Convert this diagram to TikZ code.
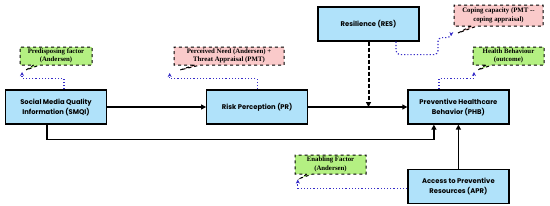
\documentclass[tikz,border=0pt]{standalone}
\usepackage{fontspec}
\usepackage{xcolor}
\usepackage{tikz}
\usetikzlibrary{arrows.meta,positioning,shapes.callouts}
\newfontfamily\boxfont{Poppins}
\newfontfamily\notefont{Liberation Serif}
\definecolor{boxblue}{RGB}{176,226,250}
\definecolor{notegreen}{RGB}{180,240,130}
\definecolor{notepink}{RGB}{250,202,202}
\definecolor{linkblue}{RGB}{55,45,200}
\begin{document}
\begin{tikzpicture}[
  x=1pt,y=-1pt,
  mainbox/.style={draw,line width=1.2pt,fill=boxblue,minimum width=101pt,
              minimum height=34pt,align=center,inner sep=1pt,
              font=\boxfont\bfseries\fontsize{6.8}{10}\selectfont},
  note/.style={rectangle callout,draw,dashed,line width=1pt,align=center,
              inner sep=0.5pt,callout pointer width=6pt,
              font=\notefont\bfseries\fontsize{6.8}{8.5}\selectfont},
  arr/.style={-{Triangle[length=5pt,width=5pt]},line width=1.2pt},
  link/.style={-{Stealth[length=4pt,width=4pt]},dotted,line width=1.2pt,
              draw=linkblue}
]
\useasboundingbox (0,0) rectangle (550,206);
% main boxes
\node[mainbox] (smqi) at (56,107) {Social Media Quality\\Information (SMQI)};
\node[mainbox,right=99pt of smqi] (pr) {Risk Perception (PR)};
\node[mainbox,right=99pt of pr] (phb) {Preventive Healthcare\\Behavior (PHB)};
\node[mainbox,below=44pt of phb] (apr) {Access to Preventive\\Resources (APR)};
\node[mainbox] (res) at (368.5,24) {Resilience (RES)};
% notes
\node[note,fill=notegreen,minimum width=72pt,minimum height=18pt,
      callout absolute pointer={(26,70)}] (pred) at (56,56)
      {Predisposing factor\\(Andersen)};
\node[note,fill=notepink,minimum width=110pt,minimum height=18pt,
      callout absolute pointer={(180,70)}] (need) at (229,56)
      {Perceived Need (Andersen) +\\Threat Appraisal (PMT)};
\node[note,fill=notepink,minimum width=89pt,minimum height=21pt,
      callout absolute pointer={(458,33)}] (cope) at (498.5,15.5)
      {Coping capacity (PMT --\\coping appraisal)};
\node[note,fill=notegreen,minimum width=71pt,minimum height=18pt,
      callout absolute pointer={(478,70)}] (hb) at (508.5,56)
      {Health Behaviour\\(outcome)};
\node[note,fill=notegreen,minimum width=71pt,minimum height=19pt,
      callout absolute pointer={(301,178)}] (enab) at (330.5,164.5)
      {Enabling Factor\\(Andersen)};
% paths
\coordinate (meet) at (res.south |- pr.east);
\draw[arr] (smqi) -- (pr);
\draw[arr] (pr) -- (phb);
\draw[arr,dash pattern=on 4pt off 2pt,line width=2pt] (res) -- (meet);
\draw[arr] ([xshift=-9pt]smqi.south) -- ++(0,15) -| ([xshift=-24.5pt]phb.south);
\draw[arr,line width=1.8pt] (apr) -- (phb);
% note links
\draw[link] ([xshift=8pt]smqi.north) -- ++(0,-11) -| (pred.pointer);
\draw[link] (pr.north) -- ++(0,-11) -| (need.pointer);
\draw[link] ([xshift=-19.5pt]phb.north) -- ++(0,-11) -| (hb.pointer);
\draw[link,rounded corners=4pt] ([xshift=27.5pt]res.south) -- ++(0,13)
  -- ++(42,0) -- ++(0,-17) -| (cope.pointer);
\draw[link] ([yshift=-2pt]apr.west) -| (enab.pointer);
\end{tikzpicture}
\end{document}
